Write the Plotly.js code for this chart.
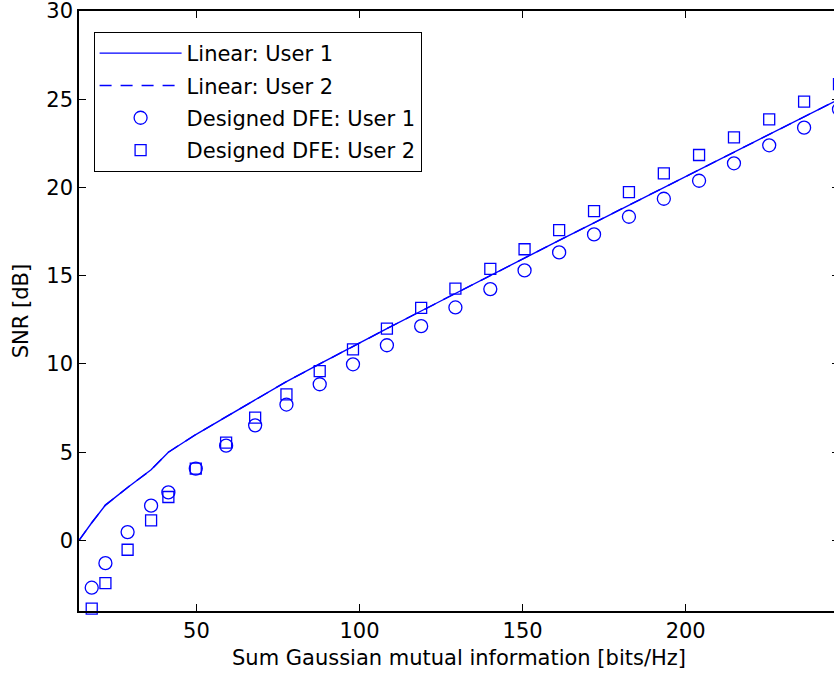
<!DOCTYPE html>
<html>
<head>
<meta charset="utf-8">
<script src="https://cdn.plot.ly/plotly-3.0.1.min.js"></script>
<style>
html,body{margin:0;padding:0;overflow:hidden;background:#fff;}
#chart{width:845px;height:675px;}
</style>
</head>
<body>
<div id="chart"></div>
<script>
// Sum Gaussian mutual information [bits/Hz] for the linear curves
const miLinear = [14, 17.9, 22.1, 28.9, 36.1, 41.4, 49.8, 59.1, 68.0, 77.6, 87.8, 98.0, 108.4, 118.9, 129.4, 140.1, 150.6, 161.2, 171.9, 182.6, 193.3, 204.1, 214.8, 225.6, 236.3, 247.0];
// SNR [dB] linear user 1 and user 2
const snrLinearUser1 = [0, 1, 2, 3, 4, 5, 6, 7, 8, 9, 10, 11, 12, 13, 14, 15, 16, 17, 18, 19, 20, 21, 22, 23, 24, 25];
const snrLinearUser2 = [0, 1, 2, 3, 4, 5, 6, 7, 8, 9, 10, 11, 12, 13, 14, 15, 16, 17, 18, 19, 20, 21, 22, 23, 24, 25];
// Designed DFE points
const miDFE = [17.9, 22.1, 28.9, 36.1, 41.4, 49.8, 59.1, 68.0, 77.6, 87.8, 98.0, 108.4, 118.9, 129.4, 140.1, 150.6, 161.2, 171.9, 182.6, 193.3, 204.1, 214.8, 225.6, 236.3, 247.0];
const snrDFEUser1 = [-2.68, -1.29, 0.47, 1.97, 2.72, 4.07, 5.37, 6.52, 7.70, 8.85, 9.98, 11.06, 12.14, 13.2, 14.24, 15.30, 16.32, 17.34, 18.34, 19.36, 20.38, 21.37, 22.39, 23.39, 24.43];
const snrDFEUser2 = [-3.87, -2.42, -0.53, 1.13, 2.46, 4.07, 5.54, 6.96, 8.27, 9.59, 10.82, 12.0, 13.18, 14.27, 15.39, 16.5, 17.58, 18.66, 19.74, 20.80, 21.84, 22.84, 23.86, 24.86, 25.86];
const legendNames = ['Linear: User 1', 'Linear: User 2', 'Designed DFE: User 1', 'Designed DFE: User 2'];

const blue = 'rgb(0,0,255)';
const FONT = 'DejaVu Sans, Arial, sans-serif';

const traces = [
  {x: miLinear, y: snrLinearUser1, name: legendNames[0], mode: 'lines', legendgroup: 'a',
   line: {color: blue, width: 1.4}},
  {x: miLinear, y: snrLinearUser2, name: legendNames[1], mode: 'lines', legendgroup: 'b',
   line: {color: blue, width: 1.4, dash: '12px,9px'}},
  {x: miDFE, y: snrDFEUser1, name: legendNames[2], mode: 'markers', legendgroup: 'c', cliponaxis: false,
   marker: {symbol: 'circle-open', size: 13, color: blue, line: {width: 1.3, color: blue}}},
  {x: miDFE, y: snrDFEUser2, name: legendNames[3], mode: 'markers', legendgroup: 'd', cliponaxis: false,
   marker: {symbol: 'square-open', size: 11, color: blue, line: {width: 1.3, color: blue}}}
];

const axisCommon = {
  showgrid: false, zeroline: false, showline: true, linecolor: '#000', linewidth: 1.5,
  mirror: 'allticks', ticks: 'inside', ticklen: 7, tickwidth: 1, tickcolor: '#000',
  ticklabeloverflow: 'allow',
  tickfont: {family: FONT, size: 21, color: '#000'}
};

const layout = {
  width: 845, height: 675,
  margin: {l: 79, r: 6, t: 11, b: 64},
  paper_bgcolor: '#fff', plot_bgcolor: '#fff',
  font: {family: FONT, size: 21, color: '#000'},
  showlegend: true,
  legend: {
    x: 0.0192, y: 0.965, xanchor: 'left', yanchor: 'top',
    bgcolor: '#fff', bordercolor: '#000', borderwidth: 1,
    font: {family: FONT, size: 21, color: '#000'},
    traceorder: 'grouped', tracegroupgap: 2, itemwidth: 82
  },
  xaxis: Object.assign({}, axisCommon, {
    range: [14, 247], tickmode: 'linear', tick0: 0, dtick: 50,
    title: {text: 'Sum Gaussian mutual information [bits/Hz]', font: {family: FONT, size: 21, color: '#000'}, standoff: 8}
  }),
  yaxis: Object.assign({}, axisCommon, {
    range: [-4, 30], tickmode: 'linear', tick0: 0, dtick: 5,
    title: {text: 'SNR [dB]', font: {family: FONT, size: 21, color: '#000'}, standoff: 12}
  })
};

Plotly.newPlot('chart', traces, layout, {displayModeBar: false, responsive: false});
</script>
</body>
</html>
